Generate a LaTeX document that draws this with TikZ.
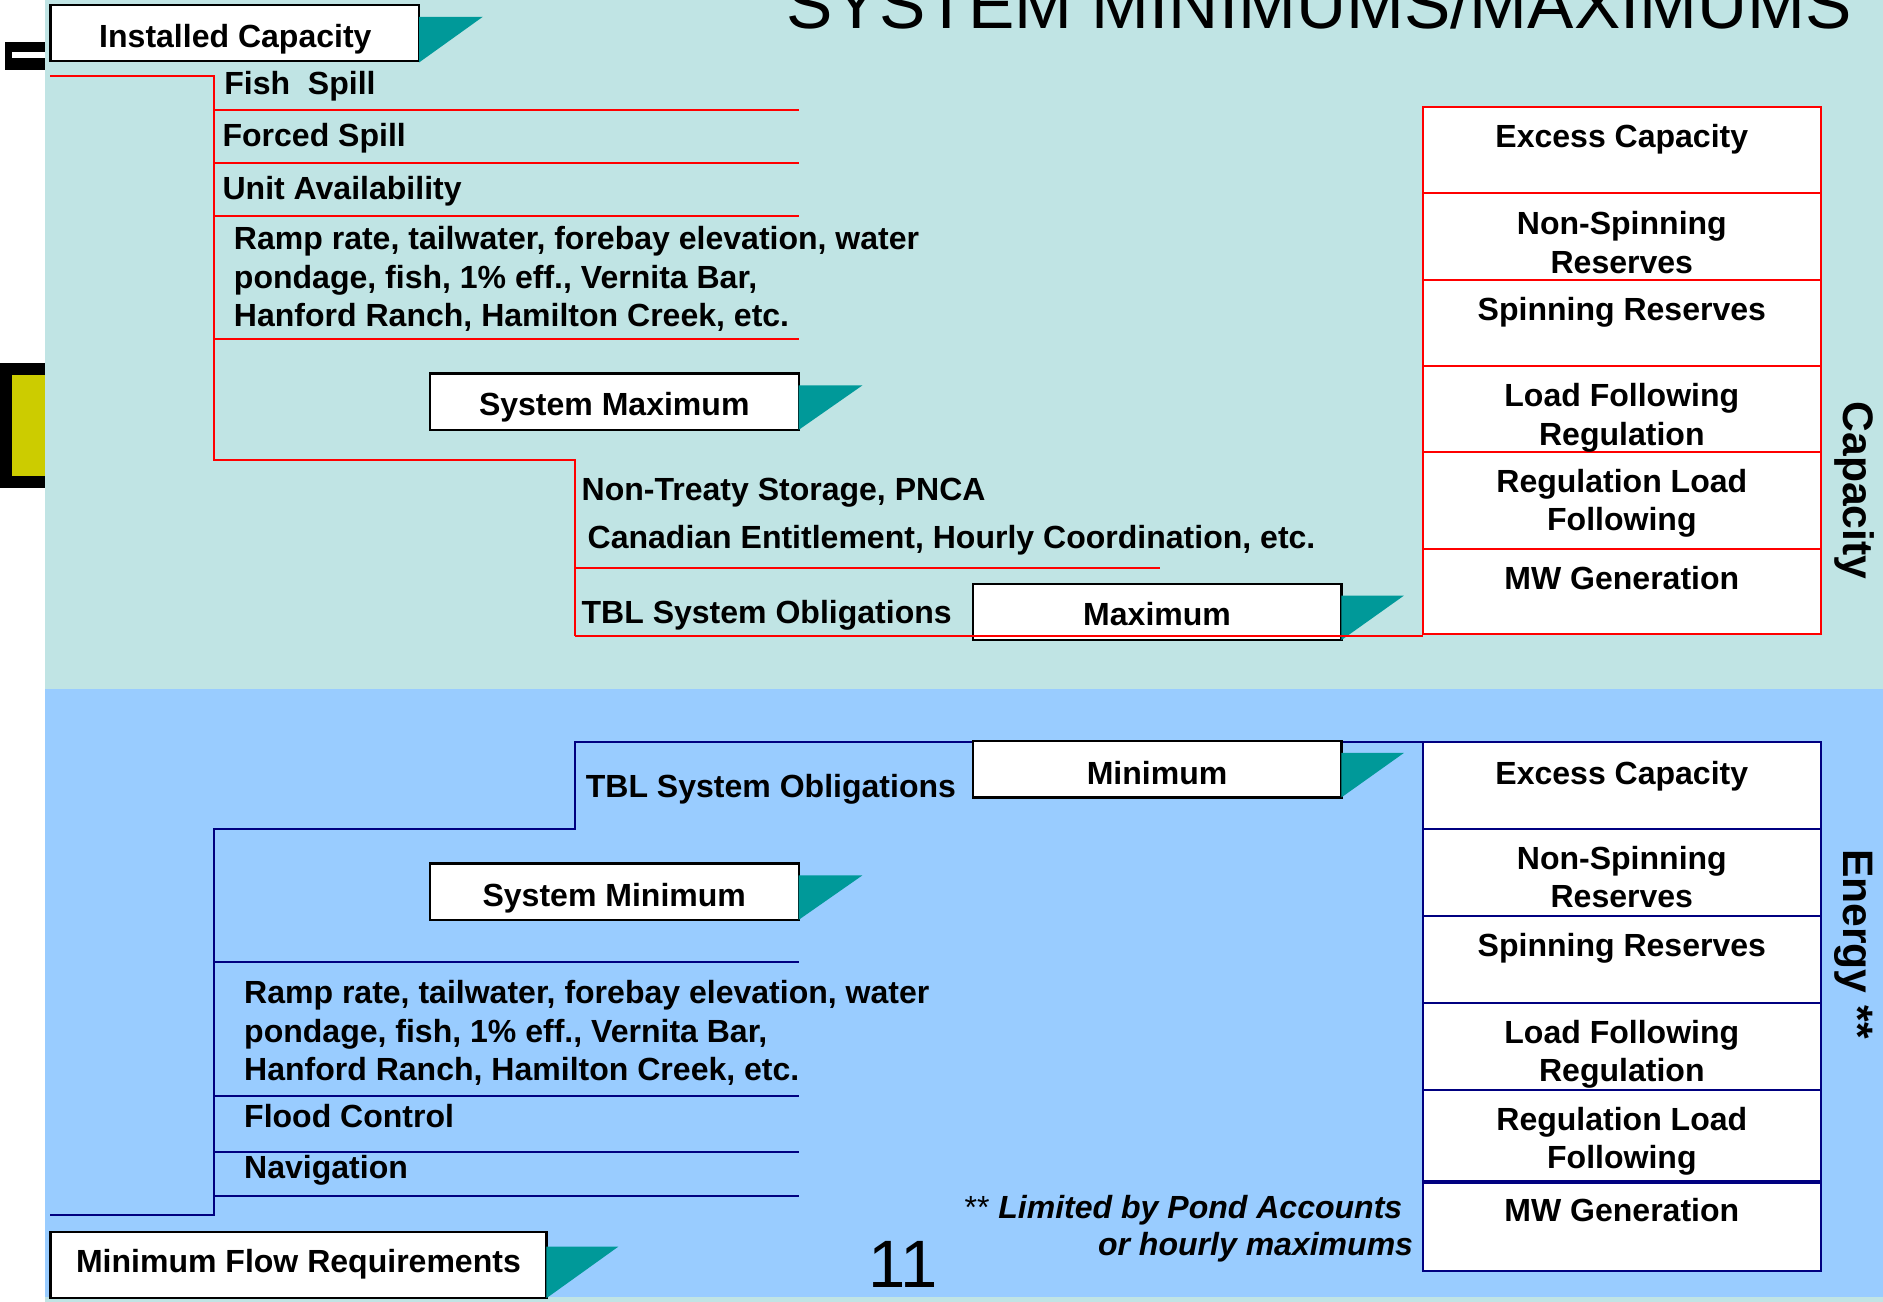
\documentclass[tikz,border=0pt]{standalone}
\usepackage{fontspec}
\setmainfont{Liberation Sans}
\definecolor{bgtop}{RGB}{192,228,228}
\definecolor{bgbot}{RGB}{153,204,255}
\definecolor{tealtri}{RGB}{0,153,153}
\definecolor{navyln}{RGB}{0,0,128}
\definecolor{yelbox}{RGB}{204,204,0}
\begin{document}
\begin{tikzpicture}[x=0.6pt,y=-0.6pt,
  txt/.style={font=\fontsize{16}{19.2}\selectfont\bfseries, inner sep=0pt, anchor=base west, align=left},
  ctxt/.style={txt, anchor=base, align=center},
  whitebox/.style={draw=black, line width=1.1pt, fill=white},
  tri/.style={fill=tealtri},
  redln/.style={draw=red, line width=1pt},
  bluln/.style={draw=navyln, line width=1pt},
  redcell/.style={draw=red, fill=white, line width=1pt},
  bluecell/.style={draw=navyln, fill=white, line width=1pt},
  sidelbl/.style={font=\fontsize{21.3}{24}\selectfont\bfseries, inner sep=0pt, rotate=-90, anchor=base},
]
\clip (0,0) rectangle (1568,1084);
\fill[white] (0,0) rectangle (1568,1084);
% left decorations
\fill[black] (0,302) rectangle (37.5,406);
\fill[yelbox] (9.7,312) rectangle (37.5,396);
\fill[black] (3.8,35) rectangle (37.5,58);
\fill[white] (9.6,43) rectangle (37.5,48.6);
% backgrounds
\fill[bgtop] (37.5,0) rectangle (1568,573.5);
\fill[bgbot] (37.5,573.5) rectangle (1568,1080);
\fill[bgtop] (37.5,1080) rectangle (1568,1084);

% title
\node[font=\fontsize{34.7}{40}\selectfont, inner sep=0pt, anchor=base west] (title) at (655,24) {SYSTEM MINIMUMS/MAXIMUMS};

% ---------- top (capacity) section ----------
\draw[whitebox] (42,4) rectangle (349,51);
\fill[tri] (349,14) -- (402,14) -- (349,52) -- cycle;
\node[ctxt] (ic) at (196,39.7) {Installed Capacity};

\draw[redln] (42,63) -- (178,63) -- (178,383) -- (479,383) -- (479,530);
\foreach \yy in {92,136,180,282} \draw[redln] (178,\yy) -- (665,\yy);
\draw[redln] (479,473) -- (966,473);

\node[txt] (fish) at (186.5,79) {Fish\ \ Spill};
\node[txt] (forced) at (185,122) {Forced Spill};
\node[txt] (unit) at (185,166) {Unit Availability};
% anchor=base of a multi-line node is the baseline of its last line
\node[txt] (rampA) at (194.5,272) {Ramp rate, tailwater, forebay elevation, water\\pondage, fish, 1\% eff., Vernita Bar,\\Hanford Ranch, Hamilton Creek, etc.};

\draw[whitebox] (358,311) rectangle (665,358);
\fill[tri] (665,321) -- (718,321) -- (665,358) -- cycle;
\node[ctxt] (smax) at (511.5,346) {System Maximum};

\node[txt] (ntsa) at (484,417) {Non-Treaty Storage, PNCA};
\node[txt] (canent) at (489,456.5) {Canadian Entitlement, Hourly Coordination, etc.};
\node[txt] (tblA) at (484,519) {TBL System Obligations};

\draw[whitebox] (810,486) rectangle (1117,533);
\fill[tri] (1117,496) -- (1169,496) -- (1117,533) -- cycle;
\node[ctxt] (max) at (963.5,520.5) {Maximum};
\draw[redln] (479,530) -- (1185,530);

% capacity table
\draw[redcell] (1185,89) rectangle (1516,528);
\foreach \yy in {161,233,305,376,457} \draw[red, line width=1pt] (1185,\yy) -- (1516,\yy);
\node[ctxt] (c1) at (1350.5,122.7) {Excess Capacity};
\node[ctxt] (c2) at (1350.5,227.5) {Non-Spinning\\Reserves};
\node[ctxt] (c3) at (1350.5,267) {Spinning Reserves};
\node[ctxt] (c4) at (1350.5,370.6) {Load Following\\Regulation};
\node[ctxt] (c5) at (1350.5,442) {Regulation Load\\Following};
\node[ctxt] (c6) at (1350.5,491) {MW Generation};
\node[sidelbl] (cap) at (1535,408.5) {Capacity};

% ---------- bottom (energy) section ----------
\draw[bluln] (1185,617.5) -- (479,617.5) -- (479,690) -- (178,690) -- (178,1012) -- (42,1012);
\foreach \yy in {801,913,959,996} \draw[bluln] (178,\yy) -- (665,\yy);

\draw[whitebox] (810,617) rectangle (1117,664);
\fill[tri] (1117,627) -- (1169,627) -- (1117,664) -- cycle;
\node[ctxt] (min) at (963.5,653) {Minimum};
\node[txt] (tblB) at (487.5,663.7) {TBL System Obligations};

\draw[whitebox] (358,719) rectangle (665,766);
\fill[tri] (665,729) -- (718,729) -- (665,766) -- cycle;
\node[ctxt] (smin) at (511.5,754.6) {System Minimum};

\node[txt] (rampB) at (203,900) {Ramp rate, tailwater, forebay elevation, water\\pondage, fish, 1\% eff., Vernita Bar,\\Hanford Ranch, Hamilton Creek, etc.};
\node[txt] (flood) at (203,939) {Flood Control};
\node[txt] (nav) at (203,981) {Navigation};

\draw[whitebox] (42,1026) rectangle (455,1081);
\fill[tri] (455,1038) -- (515,1038) -- (455,1081) -- cycle;
\node[ctxt] (mfr) at (248.5,1060) {Minimum Flow Requirements};

\node[font=\fontsize{33.5}{38}\selectfont, inner sep=0pt, anchor=base] (pg) at (752,1072) {11};

\node[txt, anchor=base east, font=\fontsize{16}{19}\selectfont\bfseries\itshape] (fn1) at (1168,1015) {{\mdseries\upshape **} Limited by Pond Accounts};
\node[txt, anchor=base east, font=\fontsize{16}{19}\selectfont\bfseries\itshape] (fn2) at (1177,1045.5) {or hourly maximums};

% energy table
\draw[bluecell] (1185,617.5) rectangle (1516,1058);
\foreach \yy in {690,763,835.6,908,983} \draw[navyln, line width=1pt] (1185,\yy) -- (1516,\yy);
\draw[navyln, line width=1pt] (1185,985) -- (1516,985);
\node[ctxt] (e1) at (1350.5,653) {Excess Capacity};
\node[ctxt] (e2) at (1350.5,756) {Non-Spinning\\Reserves};
\node[ctxt] (e3) at (1350.5,796.6) {Spinning Reserves};
\node[ctxt] (e4) at (1350.5,900.6) {Load Following\\Regulation};
\node[ctxt] (e5) at (1350.5,973.4) {Regulation Load\\Following};
\node[ctxt] (e6) at (1350.5,1017.3) {MW Generation};
\node[sidelbl] (en) at (1535,786) {Energy **};
\end{tikzpicture}
\end{document}
